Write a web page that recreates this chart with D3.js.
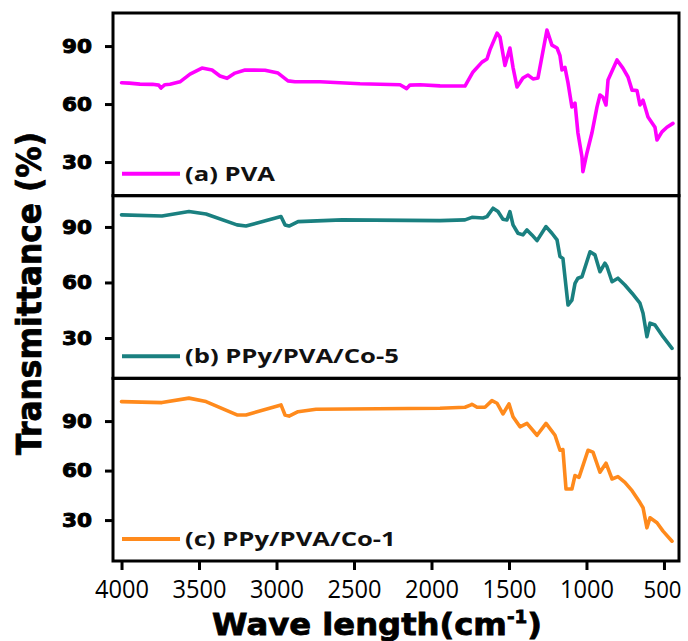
<!DOCTYPE html>
<html><head><meta charset="utf-8">
<script src="https://cdn.jsdelivr.net/npm/d3@7"></script>
<style>body{margin:0;background:#fff}</style>
</head><body><svg id="c" width="688" height="641"></svg>
<script>
// ---- data ----
const pvaWave=[4000,3950,3881,3800,3760,3745,3720,3687,3623,3558,3481,3416,3365,3319,3268,3203,3074,2990,2926,2881,2719,2461,2203,2160,2139,2074,1945,1784,1732,1674,1642,1623,1577,1558,1526,1494,1474,1448,1410,1377,1345,1313,1255,1223,1190,1171,1158,1139,1119,1094,1074,1055,1029,1023,997,965,932,913,894,874,861,803,765,732,706,674,655,635,603,558,545,513,481,442];
const pvaT=[71,70.8,70.3,70.2,69.8,68.3,70,70.2,71.5,75.5,78.6,77.6,74.5,73.3,76,77.6,77.5,76,72,71.5,71.5,70.5,70,68,69.8,70,69.4,69.3,76.6,81.7,83.3,88,96.7,94.6,80,89,79,68.8,73.5,75,73,73.5,98.3,90.5,89,85,77.6,79,70.9,58.5,60.5,45,32.6,25,34.7,45,58.5,64.7,63.6,59.5,72.4,82.8,78.6,74,67.2,67,59.5,62,53.3,48,41.4,45.6,48,50];
const co5Wave=[4000,3739,3565,3455,3255,3197,2971,2945,2919,2861,2577,1945,1784,1739,1668,1642,1603,1571,1539,1513,1494,1474,1442,1410,1384,1352,1319,1261,1223,1190,1171,1152,1119,1094,1074,1055,1029,977,945,913,881,868,835,797,752,706,655,635,610,590,558,506,448];
const co5T=[96.5,95.9,98.3,97,91.1,90.5,95.6,91.1,90.5,92.9,93.8,93.4,93.8,95.2,94.8,95.6,100.1,98.3,94.2,93.8,98.3,91.1,86.6,85.7,88.4,85.7,82.6,90.2,86.6,83,74,73,47.8,50.5,59.5,62.3,63.1,76.6,74.9,65.8,70.4,68.6,60.4,62.3,58.6,54.2,48.8,43.4,30.7,38,37,30.7,24.4];
const co1Wave=[4000,3739,3565,3455,3255,3197,2971,2945,2919,2861,2745,1945,1784,1745,1739,1706,1655,1610,1577,1539,1500,1474,1429,1384,1319,1261,1203,1171,1152,1132,1094,1074,1048,990,958,913,874,835,797,752,706,655,635,610,590,545,506,448];
const co1T=[101.8,101.2,103.9,101.8,93.7,93.7,99.8,93.7,93,95.7,97.2,97.8,98.4,99.8,100.2,98.4,98.4,102.4,100.8,94.3,100.4,92.6,86.5,88.6,81.4,88.6,81.4,72.3,72.7,48.8,48.8,57,55.9,72.3,71.2,59,64.5,54.9,56.3,52.9,47.8,40.6,37.5,25.3,31.4,28.4,23.3,17.2];
const seriesNames=["(a) PVA","(b) PPy/PVA/Co-5","(c) PPy/PVA/Co-1"];
const seriesColors=["#ff00ff","#1a8080","#ff8a1c"];
const xTicks=[4000,3500,3000,2500,2000,1500,1000,500];
const yTicks=[30,60,90];
const xDomain=[4055,403];
const yDomains=[[12.6,107.1],[8.2,106.9],[5.2,115.9]];
const xTitle="Wave length(cm", xSup="-1", xTitleEnd=")";
const yTitle="Transmittance (%)";

// ---- layout ----
const L=113,R=679,T=13,B=561;
const ph=(B-T)/3;
const svg=d3.select("#c");
const x=d3.scaleLinear().domain(xDomain).range([L,R]);
const series=[[pvaWave,pvaT],[co5Wave,co5T],[co1Wave,co1T]];

series.forEach((s,i)=>{
  const top=T+i*ph, bot=top+ph;
  const y=d3.scaleLinear().domain(yDomains[i]).range([bot,top]);
  const pts=s[0].map((w,k)=>[w,s[1][k]]);
  svg.append("path").datum(pts)
    .attr("d",d3.line().x(d=>x(d[0])).y(d=>y(d[1])))
    .attr("fill","none").attr("stroke",seriesColors[i])
    .attr("stroke-width",3.6).attr("stroke-linejoin","round").attr("stroke-linecap","round");
  const ax=svg.append("g").attr("transform",`translate(${L},0)`)
    .call(d3.axisLeft(y).tickValues(yTicks).tickSize(8).tickPadding(4));
  ax.select(".domain").remove();
  ax.selectAll(".tick line").attr("stroke","#000").attr("stroke-width",3);
  ax.selectAll(".tick text").attr("font-family","DejaVu Sans").attr("font-weight","bold")
    .attr("font-size",19).attr("fill","#000").attr("stroke","#000").attr("stroke-width",0.9)
    .attr("x",-21).attr("textLength",30).attr("lengthAdjust","spacingAndGlyphs");
  // legend
  const ly=bot-22;
  svg.append("line").attr("x1",122).attr("x2",180).attr("y1",ly).attr("y2",ly)
    .attr("stroke",seriesColors[i]).attr("stroke-width",4);
  const t=svg.append("text").attr("x",185).attr("y",ly+7)
    .attr("font-family","Open Sans").attr("font-weight",700).attr("font-size",19)
    .attr("fill","#111").text(seriesNames[i]);
  t.node().dataset.i=i;
  svg.append("rect").attr("x",L).attr("y",top).attr("width",R-L).attr("height",ph)
    .attr("fill","none").attr("stroke","#000").attr("stroke-width",3);
});
// legend text horizontal stretch (uniform)
const leg=svg.selectAll("text").filter(function(){return this.dataset.i!==undefined;});
const base=leg.filter(function(){return this.dataset.i==="0";}).node().getComputedTextLength();
const sx=90/base;
leg.each(function(){const n=this.getComputedTextLength();d3.select(this).attr("textLength",n*sx).attr("lengthAdjust","spacingAndGlyphs");});

// x axis
const xa=svg.append("g").attr("transform",`translate(0,${B})`)
  .call(d3.axisBottom(x).tickValues(xTicks).tickSize(9).tickFormat(d3.format("d")));
xa.select(".domain").remove();
xa.selectAll(".tick line").attr("stroke","#000").attr("stroke-width",3);
xa.selectAll(".tick text").attr("font-family","Open Sans").attr("font-weight",500)
  .attr("font-size",d=>d>=1000?26:24)
  .attr("fill","#000").attr("y",37).attr("dy",0).attr("x",d=>d>=1000?0:-2)
  .attr("textLength",d=>d>=1000?54:38).attr("lengthAdjust","spacingAndGlyphs");

// titles
const xt=svg.append("text").attr("x",377).attr("y",635).attr("text-anchor","middle")
  .attr("font-family","DejaVu Sans").attr("font-weight","bold").attr("font-size",30)
  .attr("fill","#000").attr("stroke","#000").attr("stroke-width",0.8);
xt.append("tspan").text(xTitle);
xt.append("tspan").attr("font-size",17).attr("dy",-12).text(xSup);
xt.append("tspan").attr("dy",12).text(xTitleEnd);
{const bb=xt.node().getBBox();const s=330/bb.width;
 xt.attr("transform",`translate(377,0) scale(${s},1) translate(-377,0)`);}

const yt=svg.append("text").attr("transform","translate(41,293.5) rotate(-90)")
  .attr("text-anchor","middle").attr("font-family","DejaVu Sans").attr("font-weight","bold")
  .attr("font-size",33).attr("fill","#000").attr("stroke","#000").attr("stroke-width",0.8)
  .text(yTitle);
yt.attr("textLength",323).attr("lengthAdjust","spacingAndGlyphs");
</script></body></html>
